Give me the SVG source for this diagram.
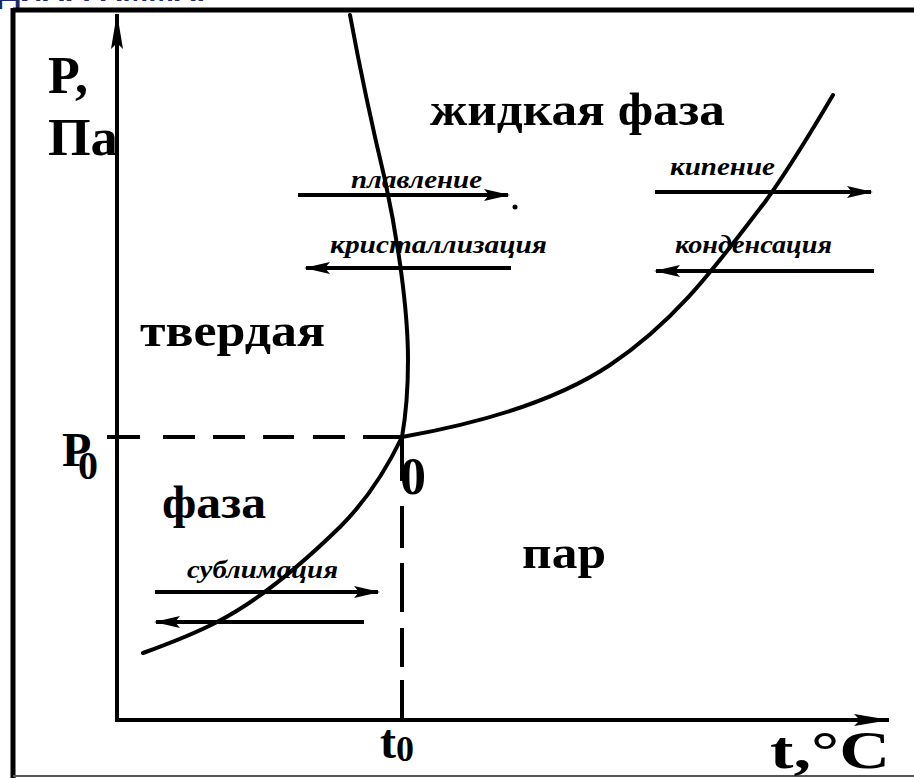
<svg xmlns="http://www.w3.org/2000/svg" width="914" height="778" viewBox="0 0 914 778">
<style>
.big{font-family:"Liberation Serif","Times New Roman",serif;font-weight:bold;fill:#000}
.lab{font-family:"Liberation Serif","Times New Roman",serif;font-weight:bold;font-style:italic;fill:#000}
.ln{stroke:#000;stroke-width:4;fill:none}
.cv{stroke:#000;stroke-width:4;fill:none;stroke-linecap:round}
.ds{stroke:#000;stroke-width:4;fill:none}
</style>
<defs>
<marker id="ah" viewBox="0 0 26 14" refX="24" refY="7" markerWidth="26" markerHeight="14" markerUnits="userSpaceOnUse" orient="auto">
<path d="M0,1 L26,7 L0,13 L5,7 Z" fill="#000"/>
</marker>
<marker id="ax" viewBox="0 0 36 14" refX="35" refY="7" markerWidth="36" markerHeight="14" markerUnits="userSpaceOnUse" orient="auto">
<path d="M0,1 L36,7 L0,13 L6,7 Z" fill="#000"/>
</marker>
</defs>
<rect x="0" y="0" width="914" height="778" fill="#fff"/>
<text x="-2" y="1" font-family="Liberation Sans, Arial, sans-serif" font-weight="bold" font-size="40" fill="#1b2a6b" textLength="207" lengthAdjust="spacingAndGlyphs">ДИАГРАММА.</text>
<g id="frame">
<line x1="13" y1="10" x2="914" y2="10" stroke="#000" stroke-width="5"/>
<line x1="13" y1="8" x2="13" y2="778" stroke="#000" stroke-width="5"/>
<line x1="13" y1="776" x2="914" y2="776" stroke="#555" stroke-width="2"/>
</g>
<g id="connectors">
<line id="y-axis" class="ln" x1="117" y1="720" x2="117" y2="14" marker-end="url(#ax)"/>
<line id="x-axis" class="ln" x1="115" y1="720" x2="889" y2="720" marker-end="url(#ax)"/>
<path id="melting-curve" class="cv" d="M350,15 C362,80 373,130 385,180 C398,240 408,310 408,360 C408,395 405,420 402,437"/>
<path id="sublimation-curve" class="cv" d="M402,437 C390,462 372,495 340,527 C300,566 260,600 217,622 C190,636 165,645 143,653"/>
<path id="vaporization-curve" class="cv" d="M402,437 C470,425 550,405 610,365 C680,318 720,260 765,202 C795,160 815,125 833,95"/>
<g id="p0-dash">
<line class="ds" x1="107" y1="437" x2="140" y2="437"/>
<line class="ds" x1="163" y1="437" x2="195" y2="437"/>
<line class="ds" x1="213" y1="437" x2="245" y2="437"/>
<line class="ds" x1="263" y1="437" x2="294" y2="437"/>
<line class="ds" x1="313" y1="437" x2="345" y2="437"/>
<line class="ds" x1="363" y1="437" x2="402" y2="437"/>
</g>
<g id="t0-dash">
<line class="ds" x1="402" y1="437" x2="402" y2="481"/>
<line class="ds" x1="402" y1="506" x2="402" y2="548"/>
<line class="ds" x1="402" y1="563" x2="402" y2="612"/>
<line class="ds" x1="402" y1="628" x2="402" y2="667"/>
<line class="ds" x1="402" y1="680" x2="402" y2="722"/>
</g>
<line id="arr-melt" class="ln" x1="298" y1="195" x2="508" y2="195" marker-end="url(#ah)"/>
<line id="arr-cryst" class="ln" x1="511" y1="268" x2="306" y2="268" marker-end="url(#ah)"/>
<line id="arr-boil" class="ln" x1="655" y1="192" x2="871" y2="192" marker-end="url(#ah)"/>
<line id="arr-cond" class="ln" x1="874" y1="271" x2="656" y2="271" marker-end="url(#ah)"/>
<line id="arr-subl" class="ln" x1="155" y1="592" x2="378" y2="592" marker-end="url(#ah)"/>
<line id="arr-desubl" class="ln" x1="364" y1="622" x2="156" y2="622" marker-end="url(#ah)"/>
<circle cx="515" cy="207" r="2.5" fill="#000"/>
</g>
<g id="axis-labels">
<text class="big" x="48" y="93" font-size="52">P,</text>
<text class="big" x="48" y="155" font-size="52" textLength="70" lengthAdjust="spacingAndGlyphs">Па</text>
<text class="big" x="62" y="466" font-size="48">P</text>
<text class="big" x="78" y="479" font-size="40">0</text>
<text class="big" x="400" y="494" font-size="52">0</text>
<text class="big" x="380" y="758" font-size="48">t</text>
<text class="big" x="396" y="761" font-size="36">0</text>
<text class="big" x="770" y="768" font-size="52" textLength="120" lengthAdjust="spacingAndGlyphs">t,°C</text>
</g>
<g id="liquid"><text class="big" x="430" y="125" font-size="46" textLength="295" lengthAdjust="spacingAndGlyphs">жидкая фаза</text></g>
<g id="solid">
<text class="big" x="140" y="346" font-size="46" textLength="185" lengthAdjust="spacingAndGlyphs">твердая</text>
<text class="big" x="162" y="518" font-size="46" textLength="104" lengthAdjust="spacingAndGlyphs">фаза</text>
</g>
<g id="vapor"><text class="big" x="522" y="568" font-size="46" textLength="84" lengthAdjust="spacingAndGlyphs">пар</text></g>
<g id="process-labels">
<text class="lab" x="351" y="188" font-size="26" textLength="131" lengthAdjust="spacingAndGlyphs">плавление</text>
<text class="lab" x="330" y="253" font-size="26" textLength="217" lengthAdjust="spacingAndGlyphs">кристаллизация</text>
<text class="lab" x="670" y="175" font-size="26" textLength="105" lengthAdjust="spacingAndGlyphs">кипение</text>
<text class="lab" x="675" y="253" font-size="26" textLength="157" lengthAdjust="spacingAndGlyphs">конденсация</text>
<text class="lab" x="187" y="578" font-size="26" textLength="151" lengthAdjust="spacingAndGlyphs">сублимация</text>
</g>
</svg>
